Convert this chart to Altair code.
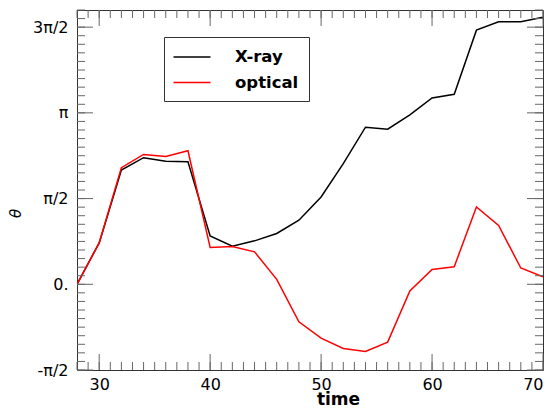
import altair as alt
import pandas as pd
import numpy as np

# ---- data ----
times = [28, 30, 32, 34, 36, 38, 40, 42, 44, 46, 48, 50, 52, 54, 56, 58, 60, 62, 64, 66, 68, 70]
xray = [0.0, 0.759, 2.094, 2.320, 2.253, 2.246, 0.887, 0.699, 0.796, 0.931, 1.175, 1.601,
        2.210, 2.879, 2.842, 3.105, 3.415, 3.481, 4.657, 4.810, 4.810, 4.895]
optical = [0.0, 0.759, 2.136, 2.380, 2.341, 2.447, 0.675, 0.694, 0.595, 0.091, -0.688, -0.986,
           -1.177, -1.232, -1.059, -0.123, 0.273, 0.322, 1.417, 1.078, 0.298, 0.138]
series_names = ["X-ray", "optical"]
series_colors = ["black", "red"]

y_major_labels = ["-π/2", "0.", "π/2", "π", "3π/2"]

PI = np.pi
W, H = 466, 360
x_dom = [28, 70]
y_dom = [-PI / 2, 1.6 * PI]

df = pd.DataFrame({
    "time": times * 2,
    "theta": xray + optical,
    "series": ["X-ray"] * len(times) + ["optical"] * len(times),
})

y_major = [k * PI / 2 for k in range(-1, 4)]
y_minor = [k * PI / 20 for k in range(-10, 33)]
x_major = list(range(30, 71, 10))
x_minor = list(range(28, 71, 1))

xs = alt.Scale(domain=x_dom, nice=False, zero=False)
ys = alt.Scale(domain=y_dom, nice=False, zero=False)

label_expr = ("datum.value < -1 ? '-π/2' : datum.value < 1 ? '0.' : "
              "datum.value < 2 ? 'π/2' : datum.value < 4 ? 'π' : '3π/2'")

lines = alt.Chart(df).mark_line(strokeWidth=1.5, clip=True).encode(
    x=alt.X("time:Q", scale=xs, title="time", axis=alt.Axis(
        values=x_major, ticks=False, domain=False, grid=False, title="time",
        labelFontSize=16, labelPadding=6, labelColor="black",
        titleFontSize=17, titleFontWeight="bold", titleColor="black",
        titleX=261, titleY=34, titleBaseline="alphabetic")),
    y=alt.Y("theta:Q", scale=ys, title="θ", axis=alt.Axis(
        values=y_major, labelExpr=label_expr, ticks=False, domain=False, grid=False,
        title="θ", labelFontSize=16, labelPadding=9, labelColor="black",
        titleFontSize=15, titleFontStyle="italic", titleFontWeight="normal",
        titleColor="black", titleX=-62, titleY=203, titleBaseline="middle",
        titleAlign="center")),
    color=alt.Color("series:N", scale=alt.Scale(domain=series_names, range=series_colors),
                    sort=series_names, legend=alt.Legend(title=None)),
)

tick_color = "#666"

def yticks(vals, length, right=False):
    d = pd.DataFrame({"v": vals})
    if right:
        x0, x1 = W - length, W
    else:
        x0, x1 = 0, length
    return alt.Chart(d).mark_rule(color=tick_color, strokeWidth=1).encode(
        y=alt.Y("v:Q", scale=ys, title="θ"),
        x=alt.value(x0), x2=alt.value(x1))

def xticks(vals, length, top=False):
    d = pd.DataFrame({"v": vals})
    if top:
        y0, y1 = 0, length
    else:
        y0, y1 = H - length, H
    return alt.Chart(d).mark_rule(color=tick_color, strokeWidth=1).encode(
        x=alt.X("v:Q", scale=xs, title="time"),
        y=alt.value(y0), y2=alt.value(y1))

chart = alt.layer(
    lines,
    yticks(y_minor, 8), yticks(y_major, 16),
    yticks(y_minor, 8, right=True), yticks(y_major, 16, right=True),
    xticks(x_minor, 8), xticks(x_major, 16),
    xticks(x_minor, 8, top=True), xticks(x_major, 16, top=True),
).properties(
    width=W, height=H,
    autosize=alt.AutoSizeParams(type="none"),
    padding={"left": 69, "top": 2, "right": 2, "bottom": 37},
).configure(font="DejaVu Sans").configure_view(
    stroke="#333", strokeWidth=1
).configure_legend(
    orient="none", legendX=87, legendY=27,
    strokeColor="#333", fillColor="white", padding=10,
    labelFontSize=16.5, labelFontWeight="bold", labelColor="black",
    symbolType="M-2,0H2", symbolSize=342, symbolStrokeWidth=1.5,
    symbolOffset=8, rowPadding=6.5, labelOffset=33, cornerRadius=0,
)

chart.save("out.html", embed_options={"renderer": "svg", "actions": False})
